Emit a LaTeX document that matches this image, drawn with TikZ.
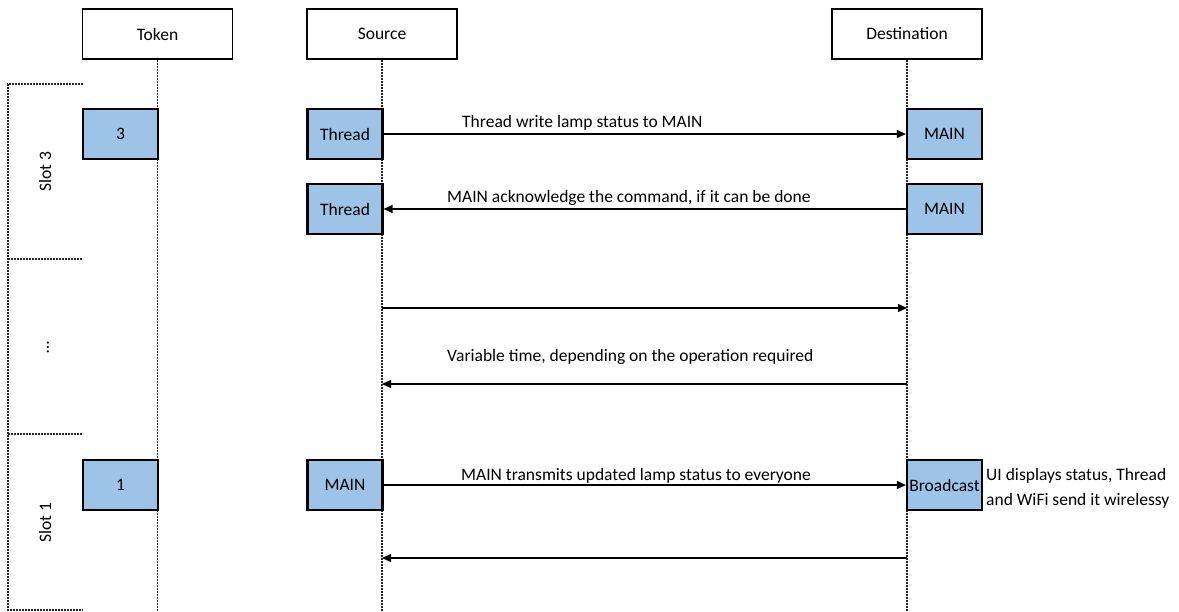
\documentclass[tikz,border=0pt]{standalone}
\usepackage{fontspec}
\setmainfont{Carlito}
\usetikzlibrary{arrows.meta}
\definecolor{boxblue}{RGB}{157,195,230}
\begin{document}
\begin{tikzpicture}[x=1pt,y=-1pt,
  every node/.style={font=\fontsize{17.5}{21}\selectfont, inner sep=0pt},
  header/.style={draw, line width=1.6pt, fill=white, minimum width=150pt, minimum height=50pt},
  actbox/.style={draw, line width=2.2pt, fill=boxblue, minimum width=75pt, minimum height=50pt},
  lifeline/.style={line width=1.6pt, dash pattern=on 2pt off 1pt, black!85},
  slotline/.style={line width=1.6pt, dash pattern=on 2pt off 1pt, black!85},
  msg/.style={line width=1.3pt, -{Triangle[length=9pt,width=8pt]}},
  lbl/.style={anchor=base west}]
\useasboundingbox (0,0) rectangle (1179,612);
% headers
\node[header] (tok) at (157.5,34) {Token};
\node[header] (src) at (382,34) {Source};
\node[header] (dst) at (907,34) {Destination};
% lifeline ends
\coordinate (tokend) at (157.5,612);
\coordinate (srcend) at (382,612);
\coordinate (dstend) at (907,612);
\draw[lifeline] (tok.south) -- (tokend);
\draw[lifeline] (src.south) -- (srcend);
\draw[lifeline] (dst.south) -- (dstend);
% slot brackets
\draw[slotline] (83,84) -- (8,84) -- (8,610) -- (83,610);
\draw[slotline] (8,259) -- (83,259);
\draw[slotline] (8,434) -- (83,434);
\node[rotate=90] (slot3) at (45,172) {Slot 3};
\node[rotate=90] (slotdots) at (48,347) {\ldots};
\node[rotate=90] (slot1) at (45,523) {Slot 1};
% activation boxes
\node[actbox] (tok3) at (120.5,134) {3};
\node[actbox] (thr1) at (345,134) {Thread};
\node[actbox] (main1) at (944.5,134) {MAIN};
\node[actbox] (thr2) at (345,209) {Thread};
\node[actbox] (main2) at (944.5,209) {MAIN};
\node[actbox] (tok1) at (120.5,485) {1};
\node[actbox] (mainS) at (345,485) {MAIN};
\node[actbox] (bc) at (944.5,485) {Broadcast};
% free message ends
\coordinate (s3) at (382,308);
\coordinate (d3) at (907,308);
\coordinate (s4) at (382,384);
\coordinate (d4) at (907,384);
\coordinate (s6) at (382,558);
\coordinate (d6) at (907,558);
% messages
\draw[msg] (thr1.east) -- (main1.west);
\draw[msg] (main2.west) -- (thr2.east);
\draw[msg] (s3) -- (d3);
\draw[msg] (d4) -- (s4);
\draw[msg] (mainS.east) -- (bc.west);
\draw[msg] (d6) -- (s6);
% labels
\node[lbl] (l1) at (462,128) {Thread write lamp status to MAIN};
\node[lbl] (l2) at (447,203) {MAIN acknowledge the command, if it can be done};
\node[lbl] (l3) at (447,362) {Variable time, depending on the operation required};
\node[lbl] (l5) at (461,480) {MAIN transmits updated lamp status to everyone};
\node[lbl] (nb1) at (986,480) {UI displays status, Thread};
\node[lbl] (nb2) at (986,505) {and WiFi send it wirelessy};
\end{tikzpicture}
\end{document}
